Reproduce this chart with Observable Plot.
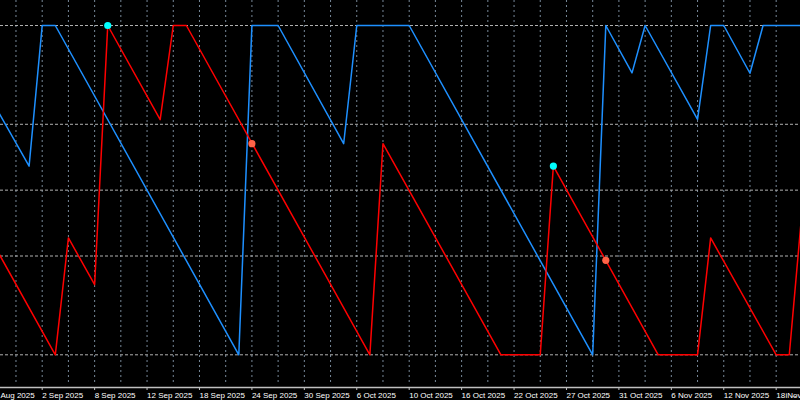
<!DOCTYPE html>
<html>
<head>
<meta charset="utf-8">
<script src="https://cdn.jsdelivr.net/npm/d3@7"></script>
<script src="https://cdn.jsdelivr.net/npm/@observablehq/plot@0.6"></script>
<style>
  html, body { margin: 0; padding: 0; background: #000; }
  #chart { width: 800px; height: 400px; overflow: hidden; }
</style>
</head>
<body>
<div id="chart"></div>
<script>
// Bar indices (one bar per trading day) and tick labels every 4 bars
const tickIndex = [0, 4, 8, 12, 16, 20, 24, 28, 32, 36, 40, 44, 48, 52, 56, 60];
const tickLabels = ["27 Aug 2025", "2 Sep 2025", "8 Sep 2025", "12 Sep 2025", "18 Sep 2025",
  "24 Sep 2025", "30 Sep 2025", "6 Oct 2025", "10 Oct 2025", "16 Oct 2025", "22 Oct 2025",
  "27 Oct 2025", "31 Oct 2025", "6 Nov 2025", "12 Nov 2025", "18 Nov 2025"];
const gridIndex = [0, 2, 4, 6, 8, 10, 12, 14, 16, 18, 20, 22, 24, 26, 28, 30, 32, 34, 36, 38, 40,
  42, 44, 46, 48, 50, 52, 54, 56, 58, 60, 62];
const levels = [0, 30, 50, 70, 100];

// Blue line (vertices: bar index, value)
const blueIdx = [0, 3, 4, 5, 19, 20, 22, 27, 28, 32, 46, 47, 49, 50, 54, 55, 56, 58, 59, 62];
const blueVal = [78.4, 57.3, 100, 100, 0, 100, 100, 64.1, 100, 100, 0, 100, 85.6, 100, 71.5, 100, 100, 85.5, 100, 100];

// Red line (vertices: bar index, value)
const redIdx = [0, 5, 6, 8, 9, 13, 14, 15, 29, 30, 39, 42, 43, 51, 54, 55, 60, 61, 62];
const redVal = [35.7, 0, 35.5, 21.3, 100, 71.4, 100, 100, 0, 64.1, 0, 0, 57.3, 0, 0, 35.5, 0, 0, 45];

// Signal dots
const cyanIdx = [9, 43];
const cyanVal = [100, 57.3];
const orangeIdx = [20, 47];
const orangeVal = [64.1, 28.7];

const blue = blueIdx.map((i, k) => ({i, v: blueVal[k]}));
const red = redIdx.map((i, k) => ({i, v: redVal[k]}));
const cyan = cyanIdx.map((i, k) => ({i, v: cyanVal[k]}));
const orange = orangeIdx.map((i, k) => ({i, v: orangeVal[k]}));

const chart = Plot.plot({
  width: 800,
  height: 400,
  marginTop: 0,
  marginRight: 0,
  marginLeft: 0,
  marginBottom: 13,
  style: {background: "#000", color: "#fff", fontFamily: "Liberation Sans, Arial, sans-serif", fontSize: "8px"},
  x: {domain: [0, 62], range: [-10.73, 801.9]},
  y: {domain: [0, 100], range: [354.3, 25], axis: null},
  marks: [
    Plot.gridX(gridIndex, {stroke: "#778899", strokeOpacity: 1, strokeDasharray: "2,3", insetBottom: 4}),
    Plot.ruleY(levels, {stroke: "#b0b0b0", strokeDasharray: "3,2", strokeWidth: 1}),
    Plot.frame({anchor: "bottom", stroke: "#c0c0c0", strokeWidth: 1.5}),
    Plot.axisX({
      ticks: tickIndex,
      tickFormat: (d) => tickLabels[tickIndex.indexOf(d)],
      tickSize: 3,
      tickPadding: 2,
      textAnchor: "start",
      dx: 0,
      stroke: "#c0c0c0",
      fill: "#fff",
      fontSize: 8
    }),
    Plot.line(blue, {x: "i", y: "v", stroke: "#1e90ff", strokeWidth: 1.5, clip: true}),
    Plot.line(red, {x: "i", y: "v", stroke: "#ff0000", strokeWidth: 1.5, clip: true}),
    Plot.dot(cyan, {x: "i", y: "v", r: 3.6, fill: "#00ffff", stroke: null}),
    Plot.dot(orange, {x: "i", y: "v", r: 3.6, fill: "#ff6347", stroke: null})
  ]
});
document.getElementById("chart").appendChild(chart);
</script>
</body>
</html>
